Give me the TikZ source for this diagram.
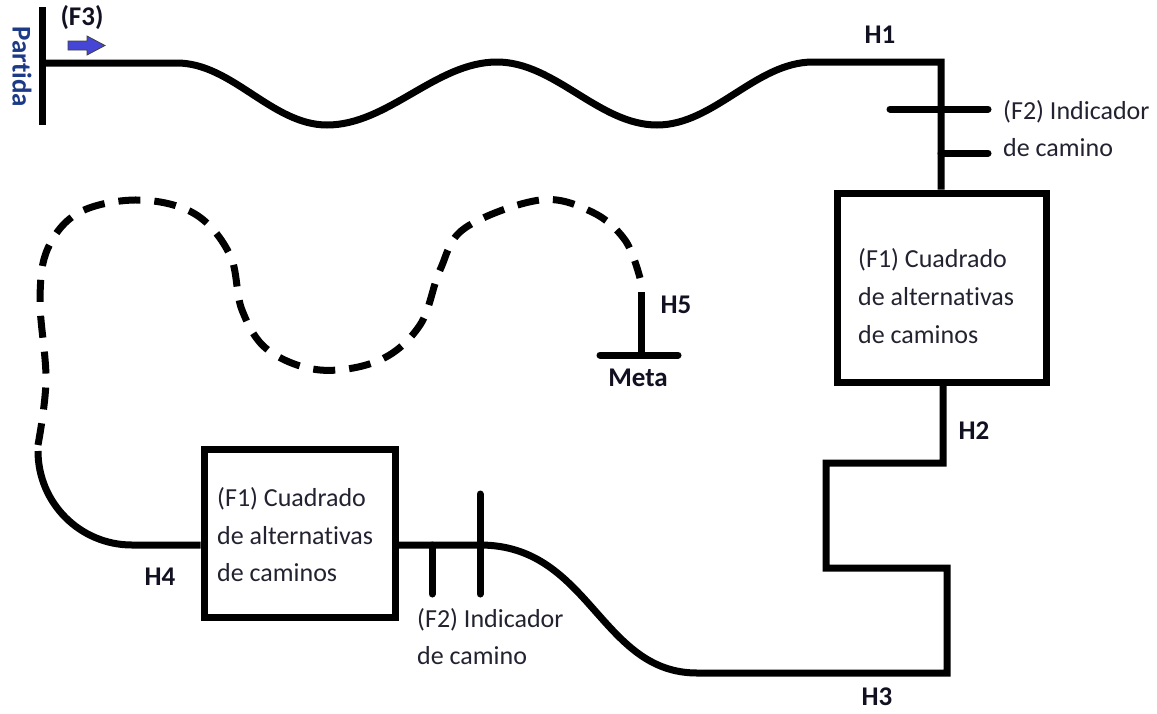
\documentclass[tikz,border=0pt]{standalone}
\usepackage{fontspec}
\setmainfont{Carlito}[Ligatures=NoCommon]
\begin{document}
\definecolor{arrowblue}{HTML}{4646D6}
\definecolor{txtdark}{HTML}{222230}
\definecolor{lbldark}{HTML}{111122}
\definecolor{partblue}{HTML}{1C3A86}
\begin{tikzpicture}[x=1pt,y=-1pt,
  track/.style={line width=7pt},
  tick/.style={line width=7pt,line cap=round},
  dashtrack/.style={line width=7pt,dash pattern=on 22pt off 14pt},
  trackbox/.style={draw,line width=7pt,rectangle,inner sep=0pt},
  body/.style={font=\fontsize{26}{37}\selectfont,text=txtdark,inner sep=0pt,anchor=base west},
  lbl/.style={font=\fontsize{27}{30}\selectfont\bfseries,text=lbldark,inner sep=0pt}]
\useasboundingbox (0,0) rectangle (1157,713);

% boxes
\node[trackbox,minimum width=209pt,minimum height=189pt] (rbox) at (941.5,287.5) {};
\node[trackbox,minimum width=191pt,minimum height=168pt] (lbox) at (299.5,533) {};

% coordinates
\coordinate (pt) at (42,7);
\coordinate (pb) at (42,125);
\coordinate (start) at (42,63);
\coordinate (w0) at (177,63);
\coordinate (h1c) at (941,62);
\coordinate (h2a) at (943,463);
\coordinate (h2b) at (826,463);
\coordinate (h2c) at (826,568);
\coordinate (h2d) at (947,568);
\coordinate (h3c) at (947,673);
\coordinate (h3s) at (697,673);
\coordinate (sEnd) at (480,545);
\coordinate (y545) at (0,545);
\coordinate (h4a) at (132,545);
\coordinate (h4b) at (38,451);
\coordinate (mt) at (641,292);
\coordinate (mb) at (641,355);
\coordinate (ml) at (600,355);
\coordinate (mr) at (678,355);

% start bar
\draw[track] (pt) -- (pb);
% wave to H1 and down to first box
\draw[track] (start) -- (w0) .. controls (232,63) and (272,125) .. (327,125)
  .. controls (388,125) and (436,62) .. (497,62)
  .. controls (555,62) and (599,125) .. (657,125)
  .. controls (714,125) and (756,62) .. (813,62) -- (h1c) -- (rbox.north -| h1c);
% indicator F2 (right)
\draw[tick] (890,109) -- (988,109);
\draw[tick] (941,153) -- (988,153);
% H2 to H3
\draw[track] (rbox.south -| h2a) -- (h2a) -- (h2b) -- (h2c) -- (h2d) -- (h3c) -- (h3s)
  .. controls (600,673) and (590,545) .. (sEnd) -- (lbox.east |- y545);
% indicator F2 (bottom)
\draw[tick] (432,545) -- (432,594);
\draw[tick] (480,494) -- (480,594);
% H4 curve
\draw[track] (lbox.west |- y545) -- (h4a) .. controls (80,545) and (38,503) .. (h4b);
% dashed path to goal
\draw[dashtrack] plot[smooth,tension=0.6] coordinates {(38,445) (46,380) (40,300) (48,248) (80,212) (139,200) (195,214) (230,255) (242,310) (268,350) (320,370) (380,360) (420,325) (440,270) (465,228) (540,200) (592,212) (625,240) (640,278)};
% goal marker
\draw[track] (mt) -- (mb);
\draw[tick] (ml) -- (mr);

% arrow F3
\filldraw[fill=arrowblue,draw=black!75,line width=0.8pt] (68,41) -- (87,41) -- (87,36) -- (105,45.5) -- (87,55) -- (87,50) -- (68,50) -- cycle;

% labels
\node[lbl,text=partblue,rotate=-90] (partida) at (22,67) {Partida};
\node[lbl] (f3) at (82,18) {(F3)};
\node[lbl] (h1) at (880,35) {H1};
\node[lbl] (h2) at (974,431) {H2};
\node[lbl] (h3) at (877,697) {H3};
\node[lbl] (h4) at (160,577) {H4};
\node[lbl] (h5) at (676,305) {H5};
\node[lbl] (meta) at (638,378) {Meta};

% texts
\node[body] (tr1) at (1003,119) {(F2) Indicador};
\node[body] (tr2) at (1003,156) {de camino};
\node[body] (rb1) at (858,267) {(F1) Cuadrado};
\node[body] (rb2) at (858,305) {de alternativas};
\node[body] (rb3) at (858,343) {de caminos};
\node[body] (lb1) at (217,506) {(F1) Cuadrado};
\node[body] (lb2) at (217,544) {de alternativas};
\node[body] (lb3) at (217,581) {de caminos};
\node[body] (tb1) at (417,627) {(F2) Indicador};
\node[body] (tb2) at (417,664) {de camino};
\end{tikzpicture}
\end{document}
